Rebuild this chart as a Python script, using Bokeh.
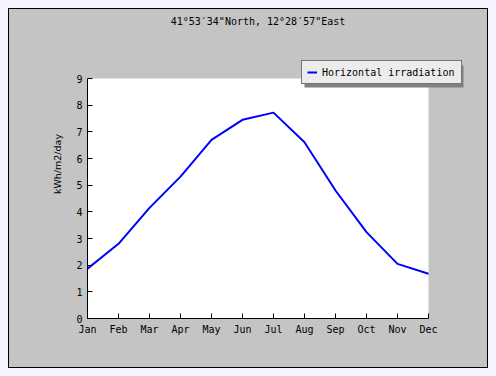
from bokeh.plotting import figure
from bokeh.models import Range1d, Label, Legend, LegendItem, FixedTicker, BoxAnnotation, GlobalInlineStyleSheet
from bokeh.embed import file_html
from bokeh.resources import INLINE

months = ["Jan", "Feb", "Mar", "Apr", "May", "Jun", "Jul", "Aug", "Sep", "Oct", "Nov", "Dec"]
irradiation = [1.87, 2.80, 4.15, 5.32, 6.70, 7.45, 7.72, 6.61, 4.80, 3.24, 2.05, 1.68]
y_ticks = [0, 1, 2, 3, 4, 5, 6, 7, 8, 9]
title_text = "41°53′34\"North, 12°28′57\"East"
series_name = "Horizontal irradiation"
y_label = "kWh/m2/day"

x = list(range(len(months)))
x_max = len(months) - 1
y_max = max(y_ticks)

MONO = "DejaVu Sans Mono"
GRAY = "#c4c4c4"
PX_X = 31.0          # pixels per month
PX_Y = 240.0 / 9     # pixels per kWh/m2/day

# legend geometry (pixels from the frame's bottom-left corner)
LEG_X, LEG_Y = 214, 234
LEG_PAD, GLYPH_W, STANDOFF, LABEL_W, ROW_H = 5, 10, 5, 134, 12
LEG_W = 2 * LEG_PAD + GLYPH_W + STANDOFF + LABEL_W
LEG_H = 2 * LEG_PAD + ROW_H
SHADOW = 3

# The frame covers the whole area right of / above the axes; the white plot area
# is the data box 0..x_max, 0..y_max.
p = figure(width=478, height=358, output_backend="svg", toolbar_location=None,
           x_range=Range1d(0, 400 / PX_X), y_range=Range1d(0, 309 / PX_Y),
           min_border_left=78, min_border_right=0, min_border_top=0, min_border_bottom=49)
p.title.visible = False
p.border_fill_color = GRAY
p.background_fill_color = GRAY
p.outline_line_color = None
p.styles = {"outline": "1px solid black", "background-color": GRAY}
p.stylesheets = [GlobalInlineStyleSheet(css="html, body { background: #f4f4fe !important; } body { padding: 9px !important; }")]

p.add_layout(BoxAnnotation(left=0, right=x_max, bottom=0, top=y_max, fill_color="white",
                           fill_alpha=1, line_color=None, level="underlay"))

# axes
p.xaxis.ticker = FixedTicker(ticks=x)
p.xaxis.major_label_overrides = {i: m for i, m in enumerate(months)}
p.xaxis.bounds = (0, x_max)
p.yaxis.ticker = FixedTicker(ticks=y_ticks)
p.yaxis.bounds = (0, y_max)
for ax in (p.xaxis, p.yaxis):
    ax.axis_line_color = "black"
    ax.major_tick_line_color = "black"
    ax.major_tick_in = 5
    ax.major_tick_out = 0
    ax.minor_tick_line_color = None
    ax.major_label_text_font = MONO
    ax.major_label_text_font_size = "10px"
    ax.major_label_text_color = "black"
    ax.major_label_standoff = 5
p.yaxis.axis_label = y_label
p.yaxis.axis_label_text_font = "DejaVu Sans"
p.yaxis.axis_label_text_font_style = "normal"
p.yaxis.axis_label_text_font_size = "9.5px"
p.yaxis.axis_label_text_color = "black"
p.yaxis.axis_label_standoff = 10

p.xgrid.grid_line_color = None
p.ygrid.grid_line_color = "#c0c0c0"
p.ygrid.ticker = FixedTicker(ticks=y_ticks[1:])
p.ygrid.cross_bounds = (0, x_max)

r = p.line(x, irradiation, line_color="#0000ff", line_width=2)

p.add_layout(Label(x=x_max / 2, y=y_max + 57 / PX_Y, text=title_text, text_align="center",
                   text_baseline="middle", text_font=MONO, text_font_size="10px", text_color="black"))

# legend drop shadow
p.add_layout(BoxAnnotation(left=(LEG_X + SHADOW) / PX_X, right=(LEG_X + SHADOW + LEG_W) / PX_X,
                           bottom=(LEG_Y - SHADOW) / PX_Y, top=(LEG_Y - SHADOW + LEG_H) / PX_Y,
                           fill_color="#808080", fill_alpha=1, line_color=None))

legend = Legend(items=[LegendItem(label=series_name, renderers=[r])], location=(LEG_X, LEG_Y),
                background_fill_color="#ececec", background_fill_alpha=1, border_line_color="black",
                label_text_color="black", label_text_font=MONO, label_text_font_size="10px",
                padding=LEG_PAD, margin=0, spacing=0, glyph_width=GLYPH_W, glyph_height=ROW_H,
                label_height=ROW_H, label_width=LABEL_W, label_standoff=STANDOFF)
p.add_layout(legend, "center")

open("out.html", "w").write(file_html(p, INLINE))
